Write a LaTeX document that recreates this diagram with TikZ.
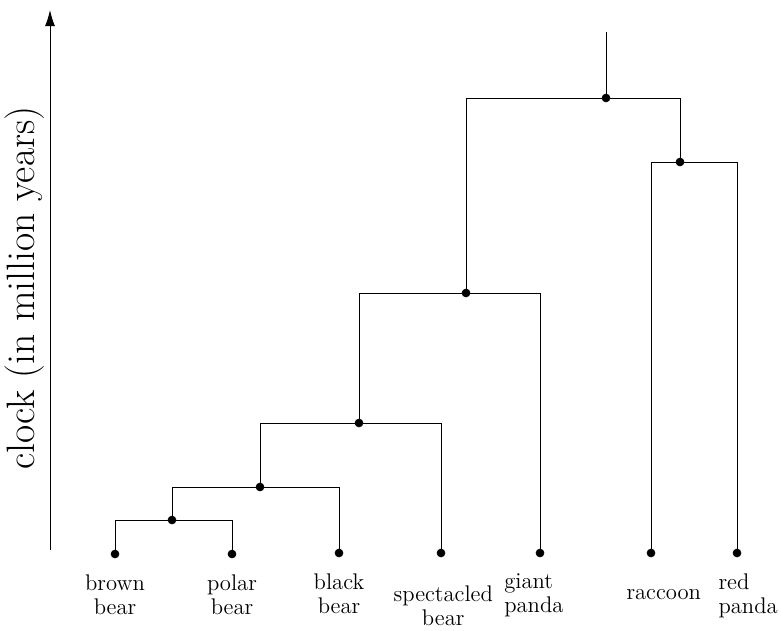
\documentclass[tikz,border=0pt]{standalone}
\usepackage{tikz}
\usetikzlibrary{
	arrows.meta,
	positioning,
	}
\tikzset{
	junction/.style={draw, circle, fill=black, inner sep=0pt, minimum size=4pt},
	species/.style={align=center, inner sep=0pt, font=\fontsize{11.6}{12.5}\selectfont},
	branch/.style={line width=0.5pt},
}

\begin{document}
\begin{tikzpicture}[x=0.018cm, y=-0.018cm]
		\useasboundingbox (0,0) rectangle (781,631);
		% time axis
		\draw[line width=0.5pt, -{Latex[length=0.29cm, width=0.18cm]}] (50,550) -- (50,10);
		\node[rotate=90, font=\fontsize{20.3}{24}\selectfont] (clock) at (25,288) {clock (in million years)};
		% leaves
		\node[junction] (bb) at (115,554) {};
		\node[junction] (pb) at (232,554) {};
		\node[junction] (kb) at (339,553) {};
		\node[junction] (sb) at (441,553) {};
		\node[junction] (gp) at (540,553) {};
		\node[junction] (rc) at (651,553) {};
		\node[junction] (rp) at (737,553) {};
		% inner nodes
		\node[junction] (n1) at (172,520) {};
		\node[junction] (n2) at (260,487) {};
		\node[junction] (n3) at (359,423) {};
		\node[junction] (n4) at (466,293) {};
		\node[junction] (n5) at (680,162) {};
		\node[junction] (n6) at (606,98) {};
		\coordinate (root) at (606,32);
		% labels
		\node[species, below=0.29cm of bb] (bbl) {brown\\bear};
		\node[species, below=0.29cm of pb] (pbl) {polar\\bear};
		\node[species, below=0.29cm of kb] (kbl) {black\\bear};
		\node[species, below=0.5cm of sb, xshift=0.04cm] (sbl) {spectacled\\bear};
		\node[species, align=left, below=0.29cm of gp, xshift=-0.11cm] (gpl) {giant\\panda};
		\node[species, below=0.58cm of rc, xshift=0.23cm] (rcl) {raccoon};
		\node[species, align=left, below=0.29cm of rp, xshift=0.2cm] (rpl) {red\\panda};
		% branches
		\draw[branch] (bb) |- (n1) -| (pb);
		\draw[branch] (n1) |- (n2) -| (kb);
		\draw[branch] (n2) |- (n3) -| (sb);
		\draw[branch] (n3) |- (n4) -| (gp);
		\draw[branch] (rc) |- (n5) -| (rp);
		\draw[branch] (n4) |- (n6) -| (n5);
		\draw[branch] (n6) -- (root);
	\end{tikzpicture}
\end{document}
